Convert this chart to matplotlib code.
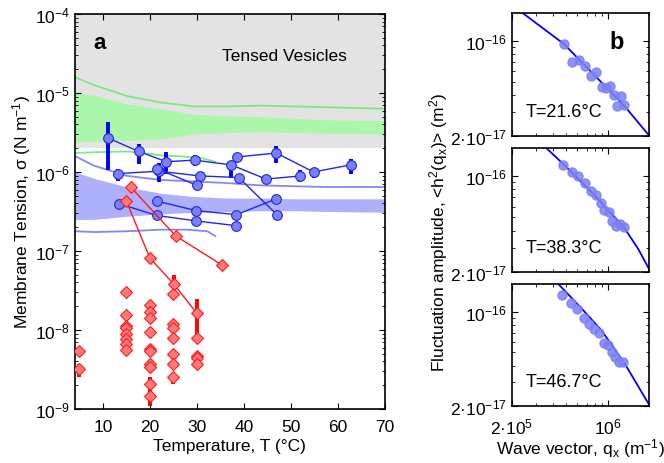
import numpy as np
import matplotlib
matplotlib.use('Agg')
import matplotlib.pyplot as plt
from matplotlib.ticker import LogLocator, NullFormatter, FixedLocator, FixedFormatter

plt.rcParams['font.family'] = ['Liberation Sans', 'DejaVu Sans']
plt.rcParams['mathtext.fontset'] = 'custom'
plt.rcParams['mathtext.rm'] = 'Liberation Sans'
plt.rcParams['mathtext.it'] = 'Liberation Sans:italic'
plt.rcParams['mathtext.default'] = 'regular'

# ---- panel a data (tension values as log10 of N/m) ----
# literature ranges: green = tensed, blue = floppy
band_T = [4.1, 8.1, 15.2, 22.3, 29.3, 36.4, 43.5, 50.6, 57.6, 70]
green_top = [-4.80, -4.90, -5.04, -5.12, -5.17, -5.17, -5.16, -5.17, -5.18, -5.20]
green_hi = [-5.00, -5.03, -5.14, -5.20, -5.27, -5.29, -5.30, -5.32, -5.34, -5.35]
green_lo = [-5.62, -5.61, -5.60, -5.58, -5.52, -5.50, -5.49, -5.50, -5.51, -5.52]
blue_top = [-5.80, -5.92, -6.05, -6.10, -6.12, -6.14, -6.17, -6.18, -6.19, -6.19]
blue_hi = [-6.00, -6.08, -6.19, -6.27, -6.31, -6.33, -6.33, -6.34, -6.34, -6.34]
blue_lo = [-6.60, -6.60, -6.56, -6.53, -6.51, -6.50, -6.49, -6.49, -6.50, -6.51]

green_bot_T = [4.1, 8.1, 15.2, 20.1, 22.3, 25.8, 30.7, 33.9]
green_bot = [-5.76, -5.75, -5.74, -5.77, -5.79, -5.80, -5.82, -5.87]
blue_bot_T = [4.1, 8.1, 15.2, 22.3, 27.9, 32.2, 33.9]
blue_bot = [-6.75, -6.76, -6.75, -6.73, -6.73, -6.75, -6.81]

# measured floppy vesicles (connected = same vesicle)
blue_series_T = [
    [11.1, 17.6, 23.5, 29.5, 37.3, 44.7, 52.0],
    [38.5, 46.9, 54.8, 62.7],
    [13.2, 21.9, 30.6, 38.9, 47.0],
    [21.6, 30.0],
    [13.4, 21.4, 29.9, 38.4],
    [21.6, 29.9, 38.4, 46.9],
]
blue_series_s = [
    [-5.57, -5.74, -5.87, -5.85, -5.91, -6.09, -6.05],
    [-5.81, -5.76, -6.00, -5.91],
    [-6.02, -5.99, -6.05, -6.07, -6.54],
    [-5.96, -6.17],
    [-6.40, -6.55, -6.62, -6.68],
    [-6.37, -6.49, -6.54, -6.34],
]
blue_err_T = [11.1, 17.6, 23.5, 29.5, 37.3, 38.5, 46.9, 52.0, 54.8, 62.7, 13.2, 21.9]
blue_err_lo = [-5.98, -5.90, -6.03, -5.92, -6.07, -5.87, -5.88, -6.13, -6.07, -6.03, -6.11, -6.13]
blue_err_hi = [-5.37, -5.64, -5.75, -5.79, -5.86, -5.76, -5.67, -5.98, -5.95, -5.84, -5.96, -5.89]

# red: gel-phase / low tension vesicles
red_series_T = [[15.9, 25.5, 35.4], [15.0, 20.0, 25.1, 30.0]]
red_series_s = [[-6.19, -6.81, -7.18], [-6.37, -7.09, -7.42, -7.79]]
red_T = [5, 5,
         15, 15, 15, 15, 15, 15, 15, 15,
         20, 20, 20, 20, 20, 20, 20, 20, 20, 20,
         25, 25, 25, 25, 25, 25, 25,
         30, 30, 30, 30]
red_s = [-8.26, -8.49,
         -7.52, -7.81, -7.95, -7.98, -8.05, -8.11, -8.18, -8.25,
         -7.68, -7.77, -7.85, -8.03, -8.24, -8.26, -8.43, -8.47, -8.68, -8.83,
         -7.54, -7.92, -7.98, -8.10, -8.30, -8.43, -8.60,
         -8.10, -8.33, -8.36, -8.43]
red_err_T = [25.1, 30.0, 20.0, 5.0, 25.0]
red_err_lo = [-7.48, -8.07, -8.96, -8.60, -8.68]
red_err_hi = [-7.31, -7.61, -8.60, -8.43, -8.58]

# ---- panel b data (log10 q, log10 <h^2>) ----
spec_labels = ['T=21.6°C', 'T=38.3°C', 'T=46.7°C']
spec_q = [
    [5.681, 5.742, 5.790, 5.834, 5.877, 5.914, 5.955, 5.986, 6.018, 6.044, 6.095, 6.069, 6.119],
    [5.676, 5.737, 5.780, 5.834, 5.877, 5.911, 5.950, 5.974, 6.010, 6.032, 6.059, 6.090, 6.115],
    [5.669, 5.730, 5.773, 5.826, 5.865, 5.901, 5.938, 5.969, 6.003, 6.027, 6.052, 6.081, 6.110],
]
spec_h = [
    [-16.024, -16.154, -16.140, -16.189, -16.262, -16.233, -16.343, -16.351, -16.336, -16.400, -16.409, -16.483, -16.473],
    [-15.916, -15.972, -15.996, -16.050, -16.106, -16.135, -16.196, -16.245, -16.265, -16.326, -16.362, -16.350, -16.374],
    [-15.877, -15.939, -15.981, -16.049, -16.091, -16.128, -16.160, -16.234, -16.246, -16.300, -16.337, -16.369, -16.374],
]
fit_q = [
    [5.374, 5.681, 5.894, 6.119, 6.301],
    [5.555, 5.676, 5.894, 6.117, 6.221, 6.301],
    [5.640, 5.809, 5.955, 6.124, 6.301],
]
fit_h = [
    [-15.791, -16.024, -16.245, -16.478, -16.699],
    [-15.796, -15.911, -16.130, -16.374, -16.533, -16.682],
    [-15.796, -15.976, -16.140, -16.386, -16.689],
]

p = lambda v: 10 ** np.asarray(v, dtype=float)

gray = '#e3e3e3'
green_band = '#aaf7aa'
green_line = '#7fe87f'
blue_band = '#aeb1f9'
blue_thin = '#8587f2'
blue_face = '#7b80f5'
blue_edge = '#1e28e6'
red_face = '#ff7b7b'
red_edge = '#ff1a1a'


def style_axes(ax):
    ax.tick_params(which='both', direction='in', top=True, right=True, labelsize=12.5)
    ax.tick_params(which='major', length=4)
    ax.tick_params(which='minor', length=2)
    for s in ax.spines.values():
        s.set_linewidth(1.2)


fig = plt.figure(figsize=(6.64, 4.64), dpi=100)

# ---------------- panel a ----------------
ax = fig.add_axes([0.1125, 0.1164, 0.4673, 0.8513])
ax.set_yscale('log')
ax.set_xlim(4, 70)
ax.set_ylim(1e-9, 1e-4)

ax.axhspan(2e-6, 1e-4, color=gray, lw=0, zorder=0)
ax.fill_between(band_T, p(green_lo), p(green_hi), color=green_band, lw=0, zorder=1)
ax.plot(band_T, p(green_top), color=green_line, lw=1.3, zorder=1)
ax.plot(green_bot_T, p(green_bot), color=green_line, lw=1.3, zorder=1)
ax.fill_between(band_T, p(blue_lo), p(blue_hi), color=blue_band, lw=0, zorder=1)
ax.plot(band_T, p(blue_top), color=blue_thin, lw=1.3, zorder=1)
ax.plot(blue_bot_T, p(blue_bot), color=blue_thin, lw=1.3, zorder=1)

ax.vlines(blue_err_T, p(blue_err_lo), p(blue_err_hi), color='#0000ff', lw=2.8, zorder=3)
for T, s in zip(blue_series_T, blue_series_s):
    ax.plot(T, p(s), '-o', color=blue_edge, lw=1.0, ms=7,
            mfc=blue_face, mec=blue_edge, mew=0.8, zorder=4)

ax.vlines(red_err_T, p(red_err_lo), p(red_err_hi), color='#ff0000', lw=2.8, zorder=5)
ax.plot(red_T, p(red_s), 'D', ms=6.5, mfc=red_face, mec=red_edge, mew=0.8, zorder=6)
for T, s in zip(red_series_T, red_series_s):
    ax.plot(T, p(s), '-D', color=red_edge, lw=1.0, ms=6.5,
            mfc=red_face, mec=red_edge, mew=0.8, zorder=6)

ax.set_xticks([10, 20, 30, 40, 50, 60, 70])
ax.yaxis.set_minor_locator(LogLocator(base=10, subs=np.arange(2, 10)))
ax.yaxis.set_minor_formatter(NullFormatter())
style_axes(ax)
ax.tick_params(axis='x', pad=7)
ax.set_xlabel('Temperature, T (°C)', fontsize=12.5, labelpad=3)
ax.set_ylabel('Membrane Tension, σ (N m$^{-1}$)', fontsize=12.5, labelpad=1)
ax.text(0.06, 0.955, 'a', transform=ax.transAxes, fontsize=16, fontweight='bold',
        va='top', ha='left')
ax.text(0.675, 0.895, 'Tensed Vesicles', transform=ax.transAxes, fontsize=12.5,
        ha='center', va='center')

# ---------------- panel b ----------------
b_pos = [[0.7706, 0.7054, 0.2072, 0.2644],
         [0.7706, 0.4123, 0.2072, 0.2659],
         [0.7706, 0.1222, 0.2072, 0.2636]]
b_axes = []
for i, pos in enumerate(b_pos):
    bx = fig.add_axes(pos)
    bx.set_xscale('log')
    bx.set_yscale('log')
    bx.set_xlim(2e5, 2e6)
    bx.set_ylim(2e-17, 1.6e-16)
    bx.plot(p(fit_q[i]), p(fit_h[i]), color='#0000ff', lw=1.3, zorder=2)
    bx.plot(p(spec_q[i]), p(spec_h[i]), 'o', ms=6.5, mfc=blue_face, mec=blue_face,
            alpha=0.85, zorder=3)
    bx.yaxis.set_major_locator(FixedLocator([2e-17, 1e-16]))
    bx.yaxis.set_major_formatter(FixedFormatter(['2·$10^{-17}$', '$10^{-16}$']))
    bx.yaxis.set_minor_locator(LogLocator(base=10, subs=np.arange(2, 10)))
    bx.yaxis.set_minor_formatter(NullFormatter())
    bx.xaxis.set_major_locator(FixedLocator([2e5, 1e6]))
    bx.xaxis.set_minor_locator(LogLocator(base=10, subs=np.arange(2, 10)))
    bx.xaxis.set_minor_formatter(NullFormatter())
    style_axes(bx)
    if i == 2:
        bx.xaxis.set_major_formatter(FixedFormatter(['2·$10^{5}$', '$10^{6}$']))
        bx.tick_params(axis='x', pad=7)
        bx.set_xlabel('Wave vector, q$_x$ (m$^{-1}$)', fontsize=12.5, labelpad=0)
    else:
        bx.xaxis.set_major_formatter(NullFormatter())
    bx.text(0.38, 0.2, spec_labels[i], transform=bx.transAxes, fontsize=13,
            ha='center', va='center')
    b_axes.append(bx)

b_axes[0].text(0.76, 0.77, 'b', transform=b_axes[0].transAxes, fontsize=17,
               fontweight='bold', ha='center', va='center')
fig.text(0.66, 0.5, 'Fluctuation amplitude, <h$^2$(q$_x$)> (m$^2$)',
         rotation=90, fontsize=12.5, ha='center', va='center')

fig.savefig('out.png', dpi=100)
